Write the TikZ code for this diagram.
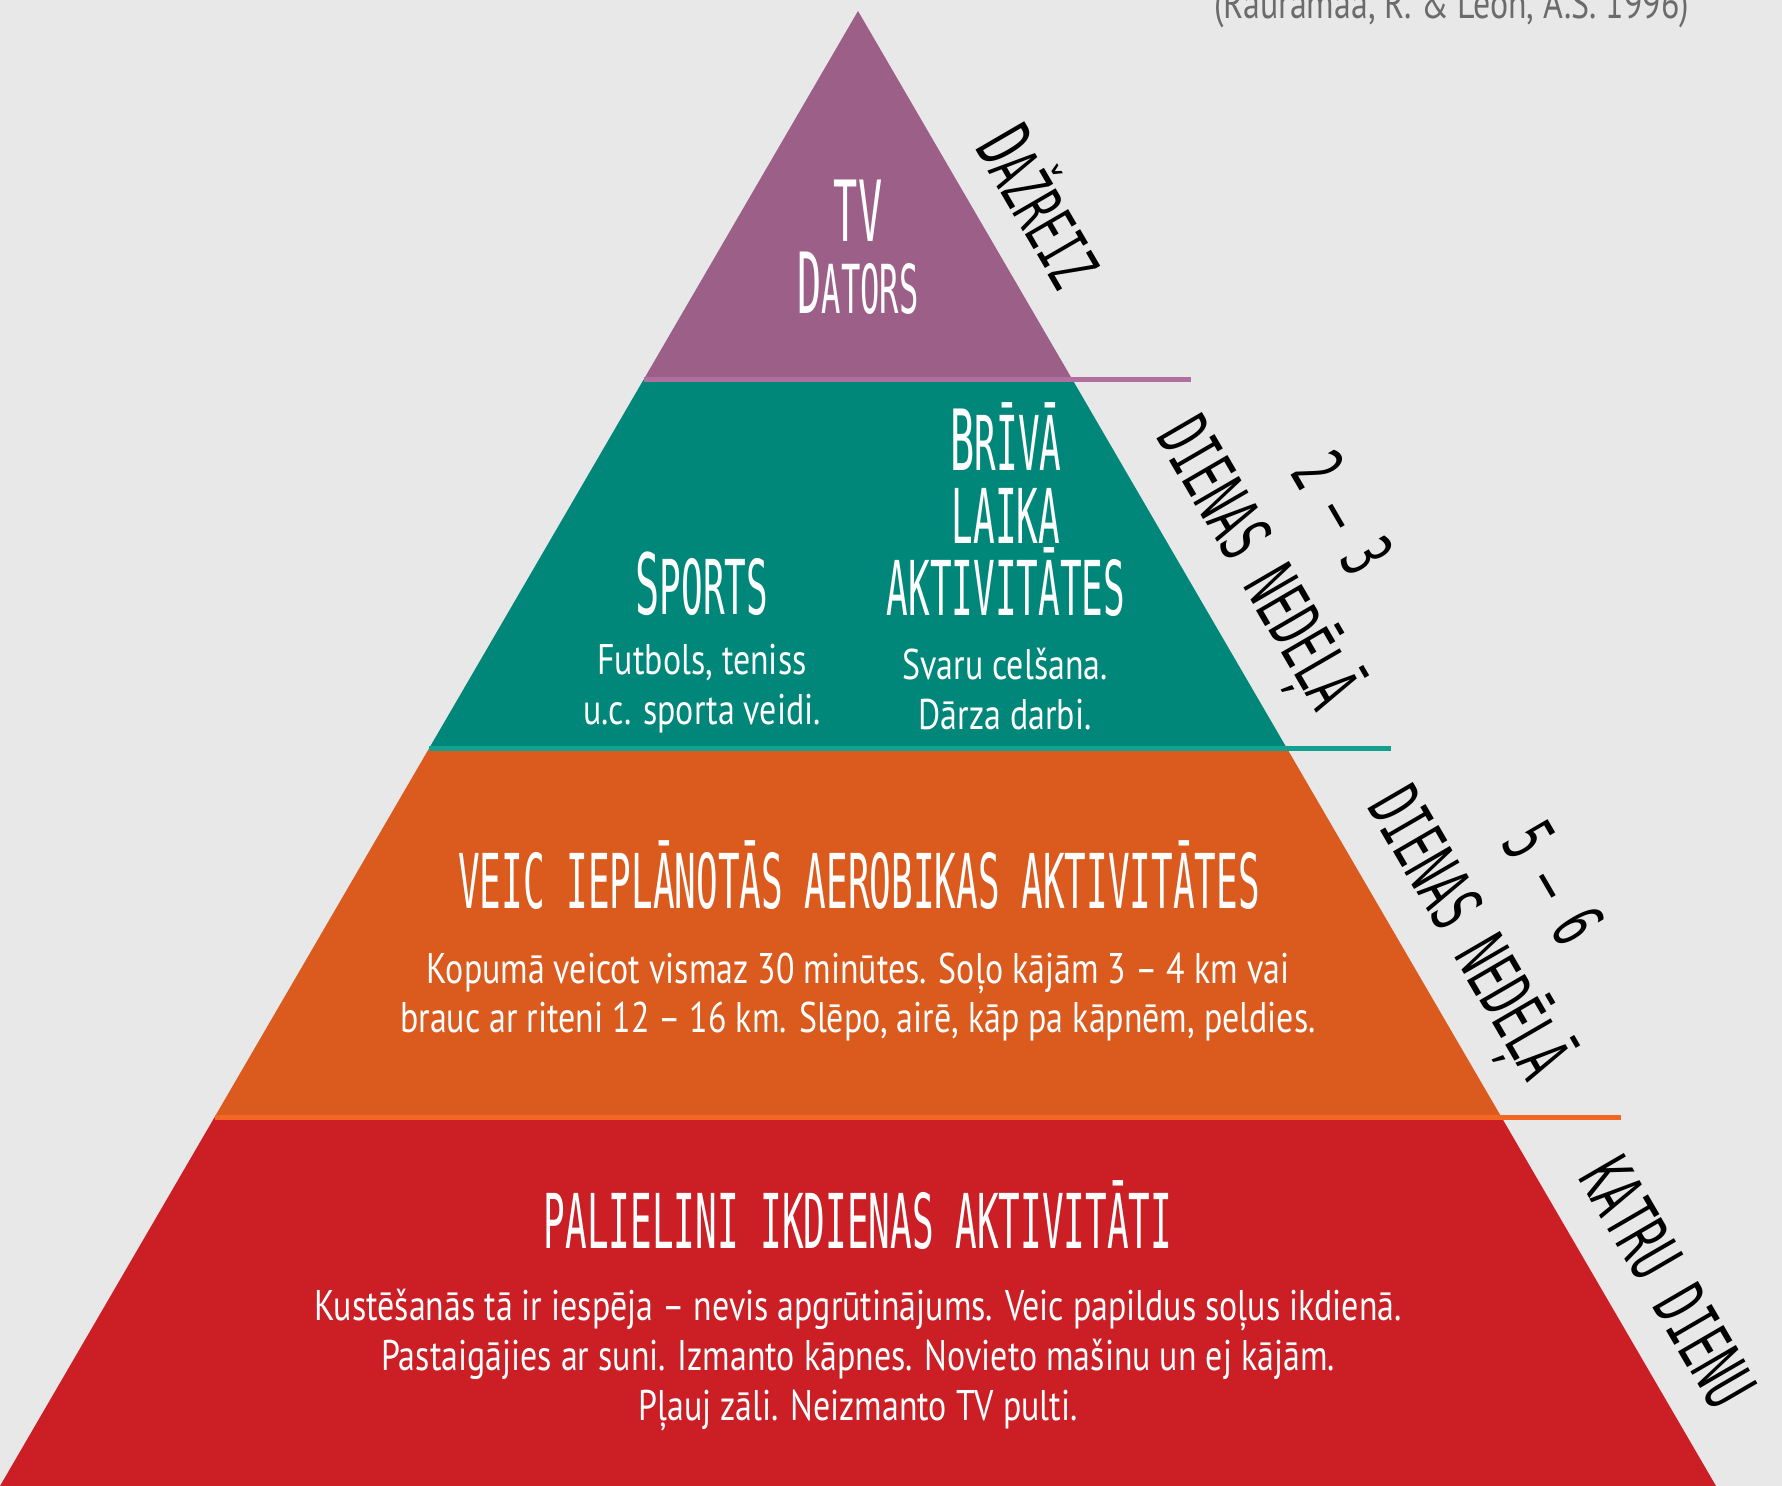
\documentclass[tikz,border=0pt]{standalone}
\usepackage{fontspec}
\usetikzlibrary{calc}
\newfontfamily\handfont[FakeStretch=0.476]{DejaVu Sans Mono}
\newfontfamily\sidefont[FakeStretch=0.57]{DejaVu Sans Mono}
\newfontfamily\bodyfont[FakeStretch=0.79]{PT Sans}
\definecolor{paper}{HTML}{E8E8E8}
\definecolor{purpleband}{HTML}{9C5F88}
\definecolor{purpleline}{HTML}{B16F9F}
\definecolor{tealband}{HTML}{00877A}
\definecolor{tealline}{HTML}{14A08E}
\definecolor{orangeband}{HTML}{DB5A1E}
\definecolor{orangeline}{HTML}{F26724}
\definecolor{redband}{HTML}{CB1F25}
\definecolor{citegray}{HTML}{6B6B6B}
\newcommand{\initcap}[1]{{\fontsize{24}{20.6}\selectfont #1}}

\begin{document}
\begin{tikzpicture}[x=0.01cm, y=-0.01cm,
    hand/.style={text=white, inner sep=0, align=center, font=\handfont\fontsize{21.5}{20.6}\selectfont},
    body/.style={text=white, inner sep=0, align=center, font=\bodyfont\fontsize{12.2}{14.2}\selectfont},
    side/.style={text=black, inner sep=0, align=center, rotate=-59.8, font=\sidefont\fontsize{20.5}{27.6}\selectfont}]
    \fill[paper] (0,0) rectangle (1782,1486);
    \useasboundingbox (0,0) rectangle (1782,1486);

    \coordinate (top) at (858,11);
    \coordinate (bl) at (0,1486);
    \coordinate (br) at (1716,1486);

    % the four bands
    \fill[redband] ($(top)!0.75!(bl)$) -- (bl) -- (br) -- ($(top)!0.75!(br)$) -- cycle;
    \fill[orangeband] ($(top)!0.5!(bl)$) -- ($(top)!0.75!(bl)$) -- ($(top)!0.75!(br)$) -- ($(top)!0.5!(br)$) -- cycle;
    \fill[tealband] ($(top)!0.25!(bl)$) -- ($(top)!0.5!(bl)$) -- ($(top)!0.5!(br)$) -- ($(top)!0.25!(br)$) -- cycle;
    \fill[purpleband] (top) -- ($(top)!0.25!(bl)$) -- ($(top)!0.25!(br)$) -- cycle;

    \draw[purpleline, line width=1.4pt] ($(top)!0.25!(bl)$) -- ++(547,0);
    \draw[tealline, line width=1.4pt] ($(top)!0.5!(bl)$) -- ++(962,0);
    \draw[orangeline, line width=1.4pt] ($(top)!0.75!(bl)$) -- ++(1406,0);

    \node[body, text=citegray, anchor=base east] (cite) at (1690,19) {(Rauramaa, R. \& Leon, A.S. 1996)};

    % top
    \node[hand] (tv) at (858,247) {\initcap{TV}\\\initcap{D}\fontsize{19.2}{20.6}\selectfont ATORS};

    % teal
    \node[hand, anchor=base] (sports) at (702,615) {\initcap{S}PORTS};
    \node[body] (sportsTxt) at (702,689) {Futbols, teniss\\u.c. sporta veidi.};
    \node[hand] (briva) at (1006,510) {\initcap{B}RĪVĀ\\LAIKA\\AKTIVITĀTES};
    \node[body] (brivaTxt) at (1005,689) {Svaru celšana.\\Dārza darbi.};

    % orange
    \node[hand, anchor=base] (aerob) at (859,909) {VEIC IEPLĀNOTĀS AEROBIKAS AKTIVITĀTES};
    \node[body] (aerobTxt) at (858,997) {Kopumā veicot vismaz 30 minūtes. Soļo kājām 3 – 4 km vai\\brauc ar riteni 12 – 16 km. Slēpo, airē, kāp pa kāpnēm, peldies.};

    % red
    \node[hand, anchor=base] (ikdiena) at (858,1248) {PALIELINI IKDIENAS AKTIVITĀTI};
    \node[body] (ikdienaTxt) at (858,1360) {Kustēšanās tā ir iespēja – nevis apgrūtinājums. Veic papildus soļus ikdienā.\\Pastaigājies ar suni. Izmanto kāpnes. Novieto mašinu un ej kājām.\\Pļauj zāli. Neizmanto TV pulti.};

    % along the right side
    \node[side, font=\sidefont\fontsize{19.5}{27.6}\selectfont] (dazreiz) at (1044,204) {{\fontsize{22}{27.6}\selectfont D}AŽREIZ};
    \node[side] (reizes23) at (1293,542) {2 – 3\\DIENAS NEDĒĻĀ};
    \node[side] (reizes56) at (1504,912) {5 – 6\\DIENAS NEDĒĻĀ};
    \node[side] (katru) at (1668,1282) {KATRU DIENU};
\end{tikzpicture}
\end{document}
